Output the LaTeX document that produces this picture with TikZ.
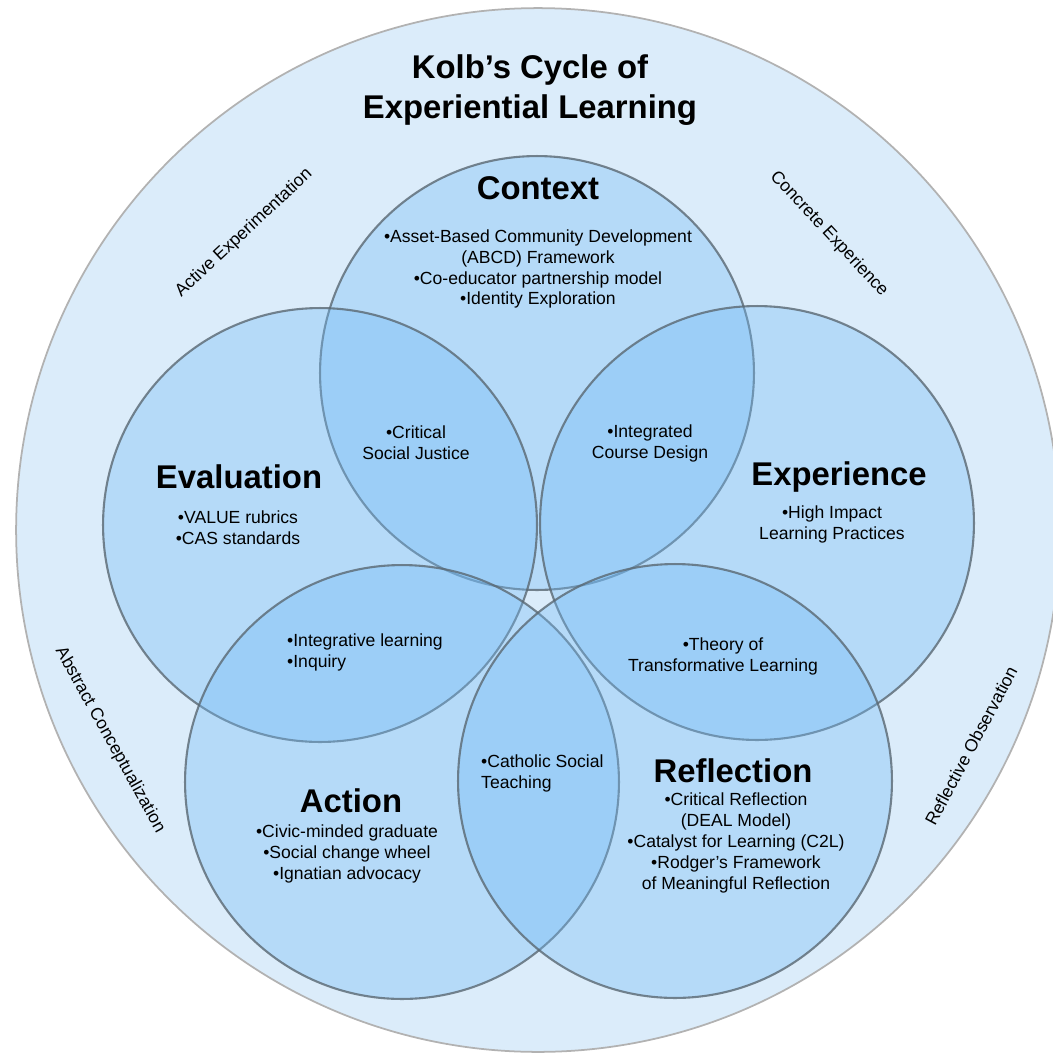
\documentclass[tikz,border=0pt]{standalone}
\usepackage{fontspec}
\setmainfont{Liberation Sans}
\definecolor{ringfill}{RGB}{219,236,250}
\definecolor{ringline}{RGB}{178,178,178}
\definecolor{petalfill}{RGB}{112,186,246}
\definecolor{petalline}{RGB}{90,104,114}
\begin{document}
\begin{tikzpicture}[x=0.02cm, y=-0.02cm,
    ring/.style={circle, draw=ringline, line width=1pt, fill=ringfill, minimum size=20.88cm, inner sep=0pt},
    petal/.style={circle, draw=petalline, draw opacity=0.8, line width=1.2pt, fill=petalfill, fill opacity=0.35, minimum size=8.68cm, inner sep=0pt},
    heading/.style={font=\fontsize{18.7}{22.7}\selectfont\bfseries, align=center},
    items/.style={font=\fontsize{10}{11.9}\selectfont, align=center},
    phase/.style={font=\fontsize{10}{12}\selectfont}]
  \useasboundingbox (0,0) rectangle (1053,1059);
  \node[ring] (kolb) at (538,530) {};
  % five overlapping circles
  \node[petal] (context) at (537,373) {};
  \node[petal] (evaluation) at (320,525) {};
  \node[petal] (experience) at (757,523) {};
  \node[petal] (action) at (402,782) {};
  \node[petal] (reflection) at (675,781) {};

  \node[heading] (title) at (530,90) {Kolb’s Cycle of\\Experiential Learning};

  % stages of the cycle
  \node[phase, rotate=43] (active) at (244,233) {Active Experimentation};
  \node[phase, rotate=-47] (concrete) at (829,234) {Concrete Experience};
  \node[phase, rotate=-61] (abstract) at (110,740) {Abstract Conceptualization};
  \node[phase, rotate=62] (reflective) at (971,746) {Reflective Observation};

  \node[heading] (contexthead) at (538,188) {Context};
  \node[items] (contextlist) at (538,269) {\textbullet Asset-Based Community Development\\(ABCD) Framework\\\textbullet Co-educator partnership model\\\textbullet Identity Exploration};
  \node[heading] (evaluationhead) at (239,477) {Evaluation};
  \node[items] (evaluationlist) at (238,528) {\textbullet VALUE rubrics\\\textbullet CAS standards};
  \node[heading] (experiencehead) at (839,477) {Experience};
  \node[items] (experiencelist) at (832,524) {\textbullet High Impact\\Learning Practices};
  \node[heading] (actionhead) at (351,801) {Action};
  \node[items] (actionlist) at (347,854) {\textbullet Civic-minded graduate\\\textbullet Social change wheel\\\textbullet Ignatian advocacy};
  \node[heading] (reflectionhead) at (733,771) {Reflection};
  \node[items] (reflectionlist) at (736,843) {\textbullet Critical Reflection\\(DEAL Model)\\\textbullet Catalyst for Learning (C2L)\\\textbullet Rodger’s Framework\\of Meaningful Reflection};

  % overlaps
  \node[items] (justice) at (416,443) {\textbullet Critical\\Social Justice};
  \node[items] (design) at (650,443) {\textbullet Integrated\\Course Design};
  \node[items, align=left, anchor=west] (inquiry) at (281,652) {\textbullet Integrative learning\\\textbullet Inquiry};
  \node[items] (transform) at (723,656) {\textbullet Theory of\\Transformative Learning};
  \node[items, align=left, anchor=west] (catholic) at (475,773) {\textbullet Catholic Social\\Teaching};
\end{tikzpicture}
\end{document}
